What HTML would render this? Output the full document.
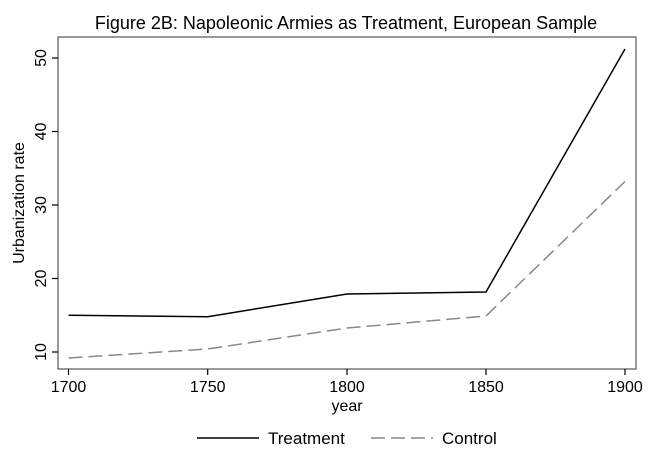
<!DOCTYPE html><html><head><style>body{margin:0;background:#fff}svg{display:block}text{font-family:"Liberation Sans",sans-serif;fill:#000}</style></head><body>
<svg width="648" height="460" xmlns="http://www.w3.org/2000/svg">
<rect x="0" y="0" width="648" height="460" fill="#fff"/>
<text x="346" y="29" font-size="18" text-anchor="middle">Figure 2B: Napoleonic Armies as Treatment, European Sample</text>
<rect x="58" y="37" width="578" height="332" fill="none" stroke="#555" stroke-width="1.2"/>
<g stroke="#000" stroke-width="1.2">
<line x1="52" y1="352" x2="58" y2="352"/><line x1="52" y1="278.5" x2="58" y2="278.5"/><line x1="52" y1="205" x2="58" y2="205"/><line x1="52" y1="131.5" x2="58" y2="131.5"/><line x1="52" y1="58" x2="58" y2="58"/>
<line x1="68.5" y1="369" x2="68.5" y2="375"/><line x1="207.7" y1="369" x2="207.7" y2="375"/><line x1="347" y1="369" x2="347" y2="375"/><line x1="486" y1="369" x2="486" y2="375"/><line x1="625" y1="369" x2="625" y2="375"/>
</g>
<g font-size="16" text-anchor="middle">
<text transform="translate(46,352) rotate(-90)">10</text>
<text transform="translate(46,278.5) rotate(-90)">20</text>
<text transform="translate(46,205) rotate(-90)">30</text>
<text transform="translate(46,131.5) rotate(-90)">40</text>
<text transform="translate(46,58) rotate(-90)">50</text>
<text x="68.5" y="392">1700</text><text x="207.7" y="392">1750</text><text x="347" y="392">1800</text><text x="486" y="392">1850</text><text x="625" y="392">1900</text>
<text x="347" y="411">year</text>
<text transform="translate(24,203) rotate(-90)">Urbanization rate</text>
</g>
<polyline points="68.5,315.2 207.7,316.7 347,294 486,292 625,49" fill="none" stroke="#000" stroke-width="1.5"/>
<polyline points="68.5,358 207.7,349 347,328 486,316 625,181.5" fill="none" stroke="#888" stroke-width="1.5" stroke-dasharray="14,6"/>
<line x1="197" y1="438" x2="259" y2="438" stroke="#000" stroke-width="1.5"/>
<text x="268" y="444" font-size="17">Treatment</text>
<line x1="371" y1="438" x2="433" y2="438" stroke="#888" stroke-width="1.5" stroke-dasharray="14,6"/>
<text x="442" y="444" font-size="17">Control</text>
</svg></body></html>
